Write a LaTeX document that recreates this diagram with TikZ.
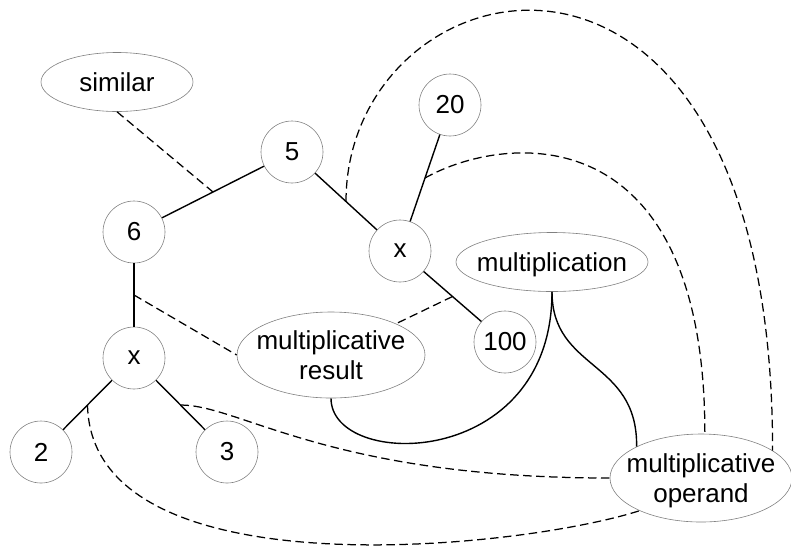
\documentclass[tikz,border=0pt]{standalone}
\usepackage{fontspec}
\setmainfont{Liberation Sans}
\usetikzlibrary{shapes.geometric}
\tikzset{
  numnode/.style={circle, draw=black!50, line width=0.6pt, minimum size=62pt, inner sep=0pt, font=\fontsize{26}{30}\selectfont},
  wordnode/.style={ellipse, draw=black!50, line width=0.6pt, inner sep=-30pt, text depth=0pt, align=center, font=\fontsize{26}{30}\selectfont},
  treeline/.style={line width=1.4pt},
  linkline/.style={line width=1.25pt, dash pattern=on 8.5pt off 4.5pt},
}

\begin{document}
\begin{tikzpicture}[x=1pt, y=-1pt]
		\useasboundingbox (0,0) rectangle (791,550);
		%%%%% NODES %%%%%
		
		\node[wordnode, minimum width=152pt, minimum height=59pt] (sim) at (117,82) {similar};
		\node[numnode] (n5) at (292,152) {5};
		\node[numnode] (n6) at (134,232) {6};
		\node[numnode] (xtop) at (400,251) {x};
		\node[numnode] (n20) at (450,105) {20};
		\node[numnode] (n100) at (505,342) {100};
		\node[numnode] (xbot) at (134,358) {x};
		\node[numnode] (n2) at (41,452) {2};
		\node[numnode] (n3) at (227,452) {3};
		
		\node[wordnode, minimum width=192pt, minimum height=59pt] (mult) at (552,262) {multiplication};
		\node[wordnode, minimum width=188pt, minimum height=86pt] (mres) at (331,355) {multiplicative\\result};
		\node[wordnode, minimum width=182pt, minimum height=88pt] (mop) at (701,478) {multiplicative\\operand};
		
		%%%%% TREE %%%%%
		
		\draw[treeline] (n6) -- (n5) coordinate[midway] (m65);
		\draw[treeline] (n5) -- (xtop) coordinate[midway] (m5x);
		\draw[treeline] (n20) -- (xtop) coordinate[midway] (m20x);
		\draw[treeline] (xtop) -- (n100) coordinate[midway] (mx100);
		\draw[treeline] (n6) -- (xbot) coordinate[midway] (m6x);
		\draw[treeline] (xbot) -- (n2) coordinate[midway] (mx2);
		\draw[treeline] (xbot) -- (n3) coordinate[midway] (mx3);
		
		\draw[treeline] (mres.south) .. controls +(0,72) and +(0,179) .. (mult.south);
		\draw[treeline] (mult.south) .. controls +(0,79) and +(1,-87) .. (mop.154);
		
		%%%%% LINKS %%%%%
		
		\draw[linkline] (sim.south) -- (m65);
		\draw[linkline] (m5x) .. controls +(0,-245) and +(0,-590) .. (mop.21);
		\draw[linkline] (m20x) .. controls +(80,-45) and +(0,-320) .. (mop.85);
		\draw[linkline] (mx100) -- (mres);
		\draw[linkline] (m6x) -- (mres.west);
		\draw[linkline] (mx3) .. controls +(60,0) and +(-280,0) .. (mop.west);
		\draw[linkline] (mx2) .. controls +(4,190) and +(-118,38) .. (mop.208);
		
		%%%%% END %%%%%
	\end{tikzpicture}
\end{document}
